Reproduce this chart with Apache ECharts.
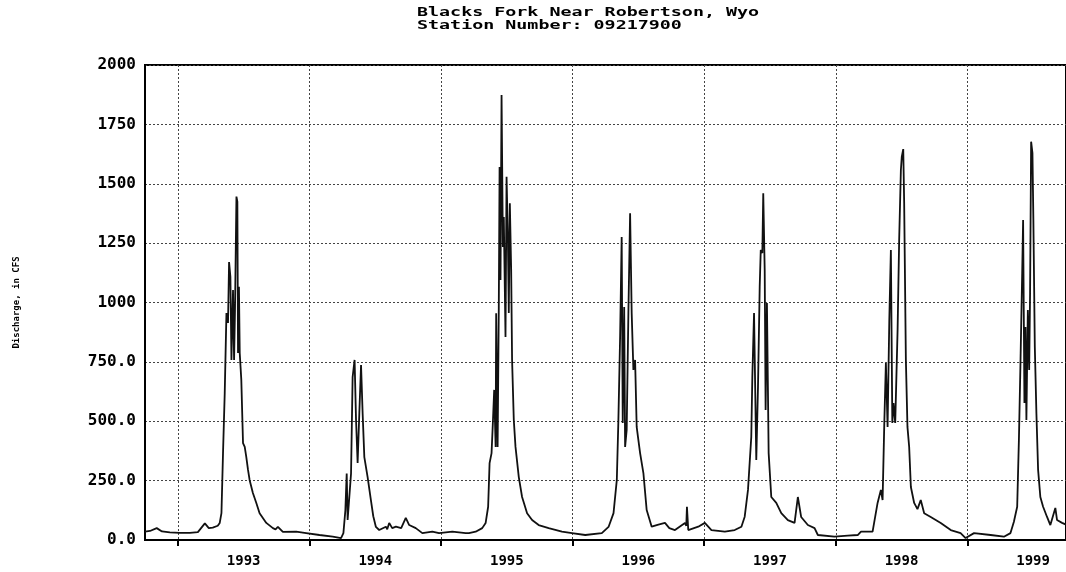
<!DOCTYPE html>
<html>
<head>
<meta charset="utf-8">
<script src="https://cdn.jsdelivr.net/npm/echarts@6/dist/echarts.min.js"></script>
<style>
html,body{margin:0;padding:0;background:#fff;}
#chart{width:1066px;height:572px;}
</style>
</head>
<body>
<div id="chart"></div>
<script>
// ---- Data ----
const titleLine1 = "Blacks Fork Near Robertson, Wyo";
const titleLine2 = "Station Number: 09217900";
const yAxisTitle = "Discharge, in CFS";

// year boundaries (Jan 1) where ticks and vertical grid lines sit
const yearBoundaries = [1993, 1994, 1995, 1996, 1997, 1998, 1999];
// year label positions (mid-year)
const yearLabelPositions = [1993.5, 1994.5, 1995.5, 1996.5, 1997.5, 1998.5, 1999.5];

// time in decimal years (water years 1993-1999)
const timeYears = [
  1992.750,1992.788,1992.839,1992.879,1992.939,1993.015,1993.091,1993.152,1993.205,1993.235,
  1993.265,1993.303,1993.318,1993.331,1993.343,1993.356,1993.369,1993.381,1993.389,1993.399,
  1993.407,1993.419,1993.427,1993.434,1993.445,1993.452,1993.457,1993.464,1993.470,1993.482,
  1993.495,1993.508,1993.520,1993.533,1993.545,1993.570,1993.596,1993.621,1993.672,1993.722,
  1993.742,1993.760,1993.798,1993.899,1993.975,1994.076,1994.177,1994.240,
  1994.258,1994.273,1994.283,1994.290,1994.303,1994.316,1994.328,1994.343,1994.354,1994.366,
  1994.379,1994.392,1994.404,1994.417,1994.442,1994.467,1994.485,1994.505,1994.530,1994.581,
  1994.591,1994.606,1994.629,1994.657,1994.697,1994.732,1994.758,1994.808,1994.858,1994.934,
  1994.985,1995.086,1995.187,
  1995.212,1995.263,1995.313,1995.339,1995.358,1995.369,1995.384,1995.394,1995.404,1995.415,
  1995.419,1995.430,1995.439,1995.445,1995.452,1995.460,1995.470,1995.477,1995.490,1995.498,
  1995.508,1995.515,1995.523,1995.533,1995.540,1995.553,1995.566,1995.591,1995.616,1995.654,
  1995.692,1995.742,1995.818,1995.919,1995.995,1996.096,1996.222,1996.273,1996.311,1996.336,
  1996.348,1996.361,1996.373,1996.381,1996.392,1996.399,1996.411,1996.424,1996.437,1996.449,
  1996.462,1996.475,1996.487,1996.500,1996.513,1996.538,1996.563,1996.601,1996.652,1996.702,
  1996.735,1996.778,1996.854,1996.864,1996.869,1996.879,1996.955,1997.005,1997.055,1997.157,
  1997.232,1997.283,1997.308,1997.333,
  1997.358,1997.366,1997.379,1997.396,1997.409,1997.422,1997.430,1997.442,1997.449,1997.460,
  1997.467,1997.477,1997.490,1997.510,1997.548,1997.586,1997.636,1997.687,1997.712,1997.737,
  1997.788,1997.839,1997.864,1997.990,1998.091,1998.167,1998.192,1998.280,1998.318,1998.343,
  1998.356,
  1998.369,1998.381,1998.394,1998.407,1998.419,1998.430,1998.439,1998.452,1998.470,1998.482,
  1998.495,1998.502,1998.513,1998.520,1998.533,1998.545,1998.558,1998.571,1998.596,1998.621,
  1998.646,1998.672,1998.722,1998.798,1998.874,1998.949,1998.987,1999.051,1999.177,1999.278,
  1999.328,1999.354,
  1999.379,1999.392,1999.404,1999.417,1999.424,1999.434,1999.442,1999.449,1999.460,1999.470,
  1999.477,1999.485,1999.495,1999.502,1999.513,1999.525,1999.538,1999.555,1999.576,1999.606,
  1999.631,1999.669,1999.682,1999.720,1999.750
];

// discharge in cubic feet per second
const dischargeCfs = [
  35,38,50,36,32,30,30,33,70,50,
  52,60,72,113,366,619,956,914,1170,1108,
  758,1053,758,968,1446,1425,787,1066,787,674,
  408,392,349,295,253,198,156,113,72,50,
  45,55,34,35,29,21,14,8,
  29,126,280,84,84,280,686,758,505,324,
  535,737,535,349,265,168,100,55,42,56,
  45,72,50,56,50,93,63,50,29,35,
  29,35,29,
  29,35,50,72,140,324,366,493,632,392,
  955,392,981,1571,1095,1874,1234,1360,855,1529,
  1276,956,1418,1137,758,505,392,265,181,113,
  84,63,50,35,29,21,29,55,113,253,
  505,855,1276,493,981,392,463,956,1376,956,
  716,758,476,421,366,282,126,56,65,72,
  50,42,72,60,140,42,56,72,42,35,
  42,56,98,211,
  434,686,956,337,644,1066,1221,1208,1460,1137,
  547,998,366,181,156,113,84,72,181,97,
  63,50,21,14,18,21,35,35,156,211,
  168,
  493,745,476,926,1221,493,577,493,884,1263,
  1558,1614,1646,1419,758,476,392,223,156,130,
  168,113,97,72,42,29,8,29,21,14,
  29,77,
  140,421,745,1123,1347,577,897,505,968,716,
  1039,1677,1629,1347,813,535,295,181,140,97,
  63,135,84,72,65
];

const yMin = 0, yMax = 2000, yStep = 250;

// ---- Chart ----
const chart = echarts.init(document.getElementById('chart'), null, {renderer: 'canvas'});
const seriesData = timeYears.map((t, i) => [t, dischargeCfs[i]]);

const pixelFont = '"DejaVu Sans Mono", "Liberation Mono", monospace';

chart.setOption({
  animation: false,
  backgroundColor: '#ffffff',
  graphic: [
    {
      type: 'text', left: 417, top: 6, scaleX: 1.41,
      style: {text: titleLine1, font: 'bold 13px ' + pixelFont, fill: '#000'}
    },
    {
      type: 'text', left: 417, top: 19, scaleX: 1.41,
      style: {text: titleLine2, font: 'bold 13px ' + pixelFont, fill: '#000'}
    }
  ],
  grid: {
    left: 145, top: 65, bottom: 32, right: -3,
    show: true, borderColor: '#000', borderWidth: 2, backgroundColor: 'transparent'
  },
  xAxis: {
    type: 'value',
    min: 1992.75,
    max: 1999.75,
    axisLine: {show: true, onZero: false, lineStyle: {color: '#000', width: 2}},
    axisTick: {show: true, length: 6, customValues: yearBoundaries, lineStyle: {color: '#000', width: 2}},
    axisLabel: {
      customValues: yearLabelPositions,
      formatter: v => String(Math.floor(v)),
      fontFamily: pixelFont, fontWeight: 'bold', fontSize: 14, color: '#000', margin: 14
    },
    splitLine: {show: true, lineStyle: {color: '#444', type: [2, 2], width: 1}}
  },
  yAxis: {
    type: 'value',
    min: yMin, max: yMax, interval: yStep,
    name: yAxisTitle,
    nameLocation: 'middle',
    nameRotate: 90,
    nameGap: 124,
    nameTextStyle: {fontFamily: pixelFont, fontWeight: 'bold', fontSize: 9, color: '#000'},
    axisLine: {show: true, lineStyle: {color: '#000', width: 2}},
    axisTick: {show: false},
    axisLabel: {
      formatter: v => (v >= 1000 ? String(v) : v.toFixed(1)),
      fontFamily: pixelFont, fontWeight: 'bold', fontSize: 16, color: '#000', margin: 9
    },
    splitLine: {show: true, lineStyle: {color: '#444', type: [2, 2], width: 1}}
  },
  series: [{
    type: 'line',
    data: seriesData,
    showSymbol: false,
    symbol: 'none',
    lineStyle: {color: '#111', width: 1.8},
    z: 5
  }]
});
</script>
</body>
</html>
